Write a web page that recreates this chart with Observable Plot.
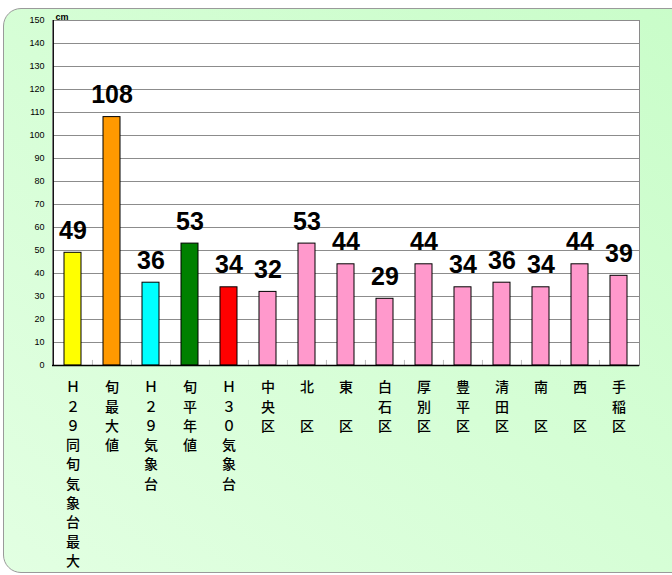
<!DOCTYPE html>
<html><head><meta charset="utf-8">
<script src="https://cdn.jsdelivr.net/npm/d3@7"></script>
<script src="https://cdn.jsdelivr.net/npm/@observablehq/plot@0.6"></script>
<style>
body{margin:0;width:672px;height:575px;overflow:hidden;position:relative;font-family:"Liberation Sans",Arial,sans-serif;}
#bg{position:absolute;left:3px;top:8px;width:690px;height:563px;border:1px solid #9a9a9a;border-radius:18px;background:linear-gradient(to bottom left,#c9fdc9,#e2ffe2);}
#chart{position:absolute;left:0;top:0;}
</style></head>
<body><div id="bg"></div><div id="chart"></div>
<script>
const categories = ["Ｈ２９同旬気象台最大","旬最大値","Ｈ２９気象台","旬平年値","Ｈ３０気象台","中央区","北　区","東　区","白石区","厚別区","豊平区","清田区","南　区","西　区","手稲区"];
const values = [49,108,36,53,34,32,53,44,29,44,34,36,34,44,39];
const colors = ["#ffff00","#ff9900","#00ffff","#008000","#ff0000","#ff99cc","#ff99cc","#ff99cc","#ff99cc","#ff99cc","#ff99cc","#ff99cc","#ff99cc","#ff99cc","#ff99cc"];
const yTicks = d3.range(0,151,10);
const unitLabel = "cm";

const data = categories.map((c,i)=>({cat:c, value:values[i], color:colors[i]}));
const W=672,H=575,mL=52,mR=33,mT=20,mB=210;
const step=(W-mL-mR)/categories.length;

const chart = Plot.plot({
  width:W,height:H,marginLeft:mL,marginRight:mR,marginTop:mT,marginBottom:mB,
  style:{background:"transparent",overflow:"visible",fontFamily:"Liberation Sans, Arial, sans-serif"},
  x:{domain:categories,paddingInner:0.56,paddingOuter:0.28,axis:null},
  y:{domain:[0,150],axis:null,label:null},
  marks:[
    Plot.frame({fill:"white",stroke:"#8a8a8a"}),
    Plot.gridY(yTicks.slice(1),{stroke:"#8c8c8c",strokeOpacity:1}),
    Plot.axisY(yTicks,{tickSize:0,tickPadding:8,fontSize:9,color:"#000",label:null}),
    Plot.ruleX(categories.slice(1),{x:d=>d,dx:-step/2,y1:0,y2:2.2,stroke:"#bbbbbb"}),
    Plot.barY(data,{x:"cat",y:"value",fill:"color",stroke:"#000",strokeWidth:1}),
    Plot.ruleX([0],{x:()=>categories[0],dx:-step/2,stroke:"#000"}),
    Plot.ruleY([0],{stroke:"#000",strokeWidth:1.5}),
    Plot.text(data,{x:"cat",y:"value",text:d=>String(d.value),dy:-14,lineAnchor:"bottom",fontSize:25,fontWeight:"bold",fill:"#000"}),
    Plot.text(categories,{x:d=>d,y:0,text:d=>[...d].join("\n"),lineAnchor:"top",dy:13,lineHeight:1.38,fontSize:14,fontWeight:500,fontFamily:"Noto Sans CJK JP",fill:"#000"}),
    Plot.text([unitLabel],{frameAnchor:"top-left",text:d=>d,textAnchor:"start",lineAnchor:"bottom",dx:3,dy:-1,fontSize:9,fontWeight:"bold",fill:"#000"})
  ]
});
document.getElementById("chart").appendChild(chart);
</script></body></html>
